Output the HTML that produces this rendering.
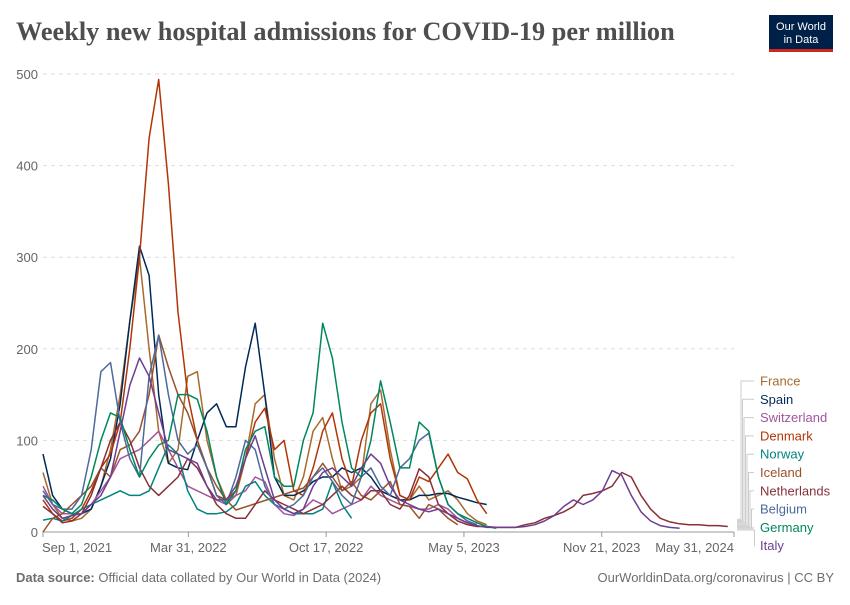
<!DOCTYPE html>
<html><head><meta charset="utf-8"><style>
body{margin:0;background:#fff;width:850px;height:600px;overflow:hidden;font-family:"Liberation Sans",sans-serif}
svg text{font-family:"Liberation Sans",sans-serif}
</style></head><body>
<svg id="chart" width="850" height="600">
<text x="16" y="40" font-weight="bold" font-size="26.3" fill="#4e4e4e" style="font-family:'Liberation Serif',serif">Weekly new hospital admissions for COVID-19 per million</text>
<g>
<rect x="769" y="15" width="64" height="36" fill="#002147"/>
<rect x="769" y="49" width="64" height="3" fill="#ce261e"/>
<text x="801" y="30" text-anchor="middle" font-size="11" fill="#fff">Our World</text>
<text x="801" y="43" text-anchor="middle" font-size="11" fill="#fff">in Data</text>
</g>
<g id="grid"></g><g id="series"></g><g id="legend"></g>
<text x="16" y="582" font-size="13" fill="#6e6e6e"><tspan font-weight="bold">Data source:</tspan> Official data collated by Our World in Data (2024)</text>
<text x="834" y="582" text-anchor="end" font-size="13" fill="#6e6e6e">OurWorldinData.org/coronavirus | CC BY</text>
</svg>
<script>
const yTicks=[0,100,200,300,400,500];
const xTickLabels=["Sep 1, 2021","Mar 31, 2022","Oct 17, 2022","May 5, 2023","Nov 21, 2023","May 31, 2024"];
const xTickDays=[0,211,411,611,811,1003];
const countries=["France","Spain","Switzerland","Denmark","Norway","Iceland","Netherlands","Belgium","Germany","Italy"];
const colors=["#A86A2E","#00295B","#A2559C","#B13507","#00847E","#9A5129","#883039","#4C6A9C","#00875E","#6D3E91"];
const stepWeeks=2;
const france=[65,30,15,12,15,25,50,90,150,230,300,200,110,75,90,170,175,100,60,35,40,80,140,150,80,40,35,60,110,125,80,45,50,60,140,155,90,40,35,50,35,40,45,35,20,12,8];
const spain=[85,40,25,20,20,25,50,80,140,230,312,280,150,75,70,68,100,130,140,115,115,180,228,150,60,40,40,45,55,60,60,70,65,70,60,45,40,35,35,40,40,42,42,38,35,32,30];
const switzerland=[50,30,20,20,20,30,45,60,80,85,90,100,110,90,70,50,45,40,35,30,40,45,60,55,30,20,18,25,35,30,20,25,30,35,50,40,35,30,28,25,25,30,25,15,10,6];
const denmark=[35,20,12,15,25,45,70,85,120,200,300,430,494,380,240,150,100,70,40,35,45,80,120,135,90,100,45,40,70,110,130,80,50,100,130,140,80,40,35,60,55,70,85,65,58,35,20];
const norway=[13,15,12,18,25,30,35,40,45,40,40,45,70,95,85,45,25,20,20,22,30,50,55,40,30,25,20,20,20,25,55,30,15];
const iceland=[0,15,20,30,40,50,70,60,90,95,110,150,215,180,150,130,100,70,50,35,24,null,null,null,null,null,null,48,60,75,60,45,55,40,35,45,55,30,28,15,30,25,15,8];
const netherlands=[28,20,10,12,20,40,70,100,120,100,70,50,40,50,60,80,70,50,30,20,15,15,30,45,35,30,25,20,25,30,40,50,40,35,45,45,30,25,40,69,60,30,20,12,8,6,6,5,5,5,8,10,15,18,22,28,40,42,45,50,65,60,40,25,15,11,9,8,8,7,7,6];
const belgium=[45,30,25,25,40,90,175,185,120,80,60,170,215,150,100,85,95,70,40,30,60,100,90,50,30,25,30,40,60,70,55,40,30,60,70,50,40,70,80,100,108,60,30,20,12,8];
const germany=[40,35,25,20,30,60,100,130,125,90,60,80,95,100,150,150,145,110,60,30,45,90,110,115,60,50,50,100,130,228,190,120,70,60,100,165,120,70,70,120,110,60,30,20,15,10,6,4];
const italy=[40,25,15,18,20,30,40,60,110,160,190,170,130,90,85,80,75,50,35,35,50,80,105,70,35,25,20,25,50,65,70,60,50,70,85,75,50,35,30,25,22,25,20,15,10,7,5,5,5,5,6,8,12,18,28,35,30,35,45,67,62,40,22,12,7,5,4];
const seriesData=[france,spain,switzerland,denmark,norway,iceland,netherlands,belgium,germany,italy];

const X0=43,X1=734,Y0=532,Y1=74,DAYS=1003,YMAX=500;
const xDay=d=>X0+(X1-X0)*d/DAYS;
const yVal=v=>Y0-(Y0-Y1)*v/YMAX;
const NS="http://www.w3.org/2000/svg";
const mk=(t,a)=>{const e=document.createElementNS(NS,t);for(const k in a)e.setAttribute(k,a[k]);return e;};
const grid=document.getElementById('grid');
yTicks.forEach(t=>{
  if(t>0){const l=mk('line',{x1:X0,x2:X1,y1:yVal(t),y2:yVal(t),stroke:'#ddd','stroke-dasharray':'4,4'});
  
  
  grid.appendChild(l);}
  const tx=mk('text',{x:38,y:yVal(t)+5,'text-anchor':'end','font-size':13,fill:'#666'});tx.textContent=t;
  
  
  grid.appendChild(tx);
});
const ax=mk('line',{x1:X0,x2:X1,y1:Y0,y2:Y0,stroke:'#999'});


grid.appendChild(ax);
xTickLabels.forEach((lab,i)=>{
  const x=xDay(xTickDays[i]);
  grid.appendChild(mk('line',{x1:x,x2:x,y1:Y0,y2:Y0+5,stroke:'#999'}));
  const anchor=i==0?'start':(i==xTickLabels.length-1?'end':'middle');
  const tx=mk('text',{x:i==0?x-1:x,y:552,'text-anchor':anchor,'font-size':13,fill:'#666'});tx.textContent=lab;
  
  
  grid.appendChild(tx);
});
const sg=document.getElementById('series');
seriesData.forEach((arr,si)=>{
  const pts=[];
  arr.forEach((v,i)=>{if(v!==null)pts.push([xDay(i*stepWeeks*7),yVal(v)]);});
  const p=mk('path',{d:'M'+pts.map(p=>p[0].toFixed(1)+','+p[1].toFixed(1)).join('L'),fill:'none',stroke:colors[si],'stroke-width':1.5,'stroke-linejoin':'round'});
  
  
  sg.appendChild(p);
});
const lg=document.getElementById('legend');
countries.forEach((c,i)=>{
  const ly=381+i*18.3;
  const lx=741+i*1.5;
  const srcY=Y0-(9-i)*1.2-2;
  lg.appendChild(mk('path',{d:`M737,${srcY}H${lx}V${ly}H754`,fill:'none',stroke:'#ccc','stroke-width':1}));
  const t=mk('text',{x:760,y:ly+4.5,'font-size':13,fill:colors[i]});t.textContent=c;
  
  
  lg.appendChild(t);
});
</script>
</body></html>
